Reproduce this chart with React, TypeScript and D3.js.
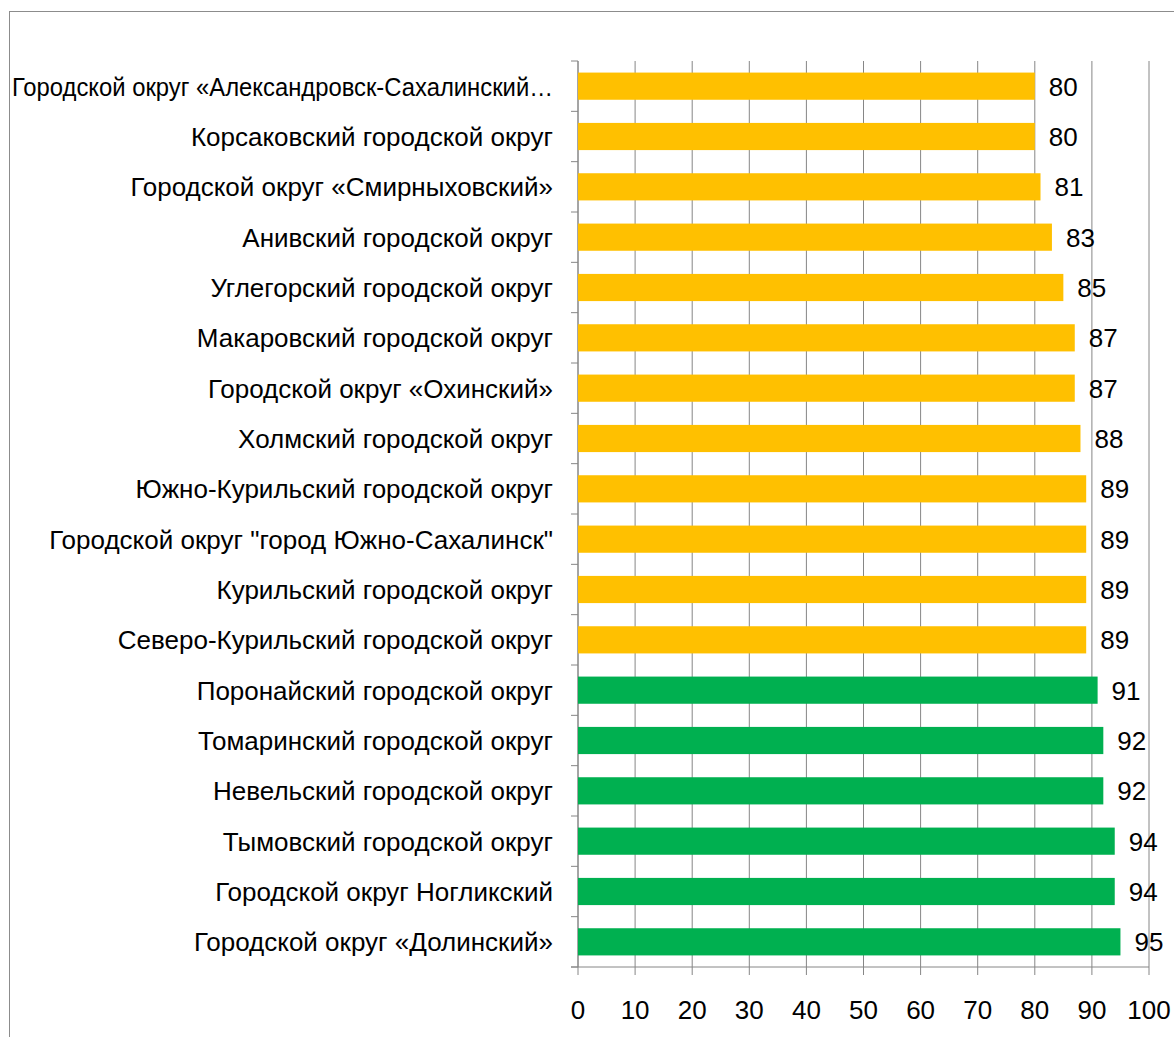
import React from "react";
import * as d3 from "d3";

const categories = [
  "Городской округ «Александровск-Сахалинский…",
  "Корсаковский городской округ",
  "Городской округ «Смирныховский»",
  "Анивский городской округ",
  "Углегорский городской округ",
  "Макаровский городской округ",
  "Городской округ «Охинский»",
  "Холмский городской округ",
  "Южно-Курильский городской округ",
  "Городской округ \"город Южно-Сахалинск\"",
  "Курильский городской округ",
  "Северо-Курильский городской округ",
  "Поронайский городской округ",
  "Томаринский городской округ",
  "Невельский городской округ",
  "Тымовский городской округ",
  "Городской округ Ногликский",
  "Городской округ «Долинский»",
];
const values = [80, 80, 81, 83, 85, 87, 87, 88, 89, 89, 89, 89, 91, 92, 92, 94, 94, 95];
const threshold = 90;
const xTicks = [0, 10, 20, 30, 40, 50, 60, 70, 80, 90, 100];

const W = 1174;
const H = 1037;
const left = 578;
const right = 1149;
const top = 61;
const bottom = 967;
const FONT = "'Liberation Sans', Arial, sans-serif";
const FS = 26;

export default function App() {
  const x = d3.scaleLinear().domain([0, 100]).range([left, right]);
  const y = d3.scaleBand<string>().domain(categories).range([top, bottom]).paddingInner(0.46).paddingOuter(0.23);
  const boundaries = d3.range(categories.length + 1).map((i) => top + i * ((bottom - top) / categories.length));
  return (
    <svg width={W} height={H} style={{ position: "absolute", left: 0, top: 0, background: "#fff" }} fontFamily={FONT}>
      <rect x={9.5} y={11.5} width={W + 10} height={H + 10} fill="none" stroke="#8c8c8c" strokeWidth={1} />
      {xTicks.map((t) => (
        <line key={"g" + t} x1={x(t)} x2={x(t)} y1={top} y2={bottom + 8} stroke="#868686" strokeWidth={1} />
      ))}
      {boundaries.map((b, i) => (
        <line key={"b" + i} x1={left - 7} x2={left} y1={b} y2={b} stroke="#868686" strokeWidth={1} />
      ))}
      <line x1={left} x2={left} y1={top} y2={bottom} stroke="#868686" strokeWidth={1} />
      <line x1={left - 7} x2={right} y1={bottom} y2={bottom} stroke="#868686" strokeWidth={1} />
      {categories.map((c, i) => {
        const v = values[i];
        const yy = y(c)!;
        const bw = y.bandwidth();
        const lx = left - 25;
        return (
          <g key={c}>
            <rect x={x(0)} y={yy} width={x(v) - x(0)} height={bw} fill={v > threshold ? "#00B050" : "#FFC000"} />
            <text x={x(v) + 14} y={yy + bw / 2} dy="0.36em" fontSize={FS} fill="#000">
              {v}
            </text>
            <text
              x={lx}
              y={yy + bw / 2}
              dy="0.36em"
              textAnchor="end"
              fontSize={FS}
              fill="#000"
              {...(i === 0 ? { textLength: lx - 12, lengthAdjust: "spacingAndGlyphs" } : {})}
            >
              {c}
            </text>
          </g>
        );
      })}
      {xTicks.map((t) => (
        <text key={"t" + t} x={x(t)} y={1010} dy="0.36em" textAnchor="middle" fontSize={FS} fill="#000">
          {t}
        </text>
      ))}
    </svg>
  );
}
